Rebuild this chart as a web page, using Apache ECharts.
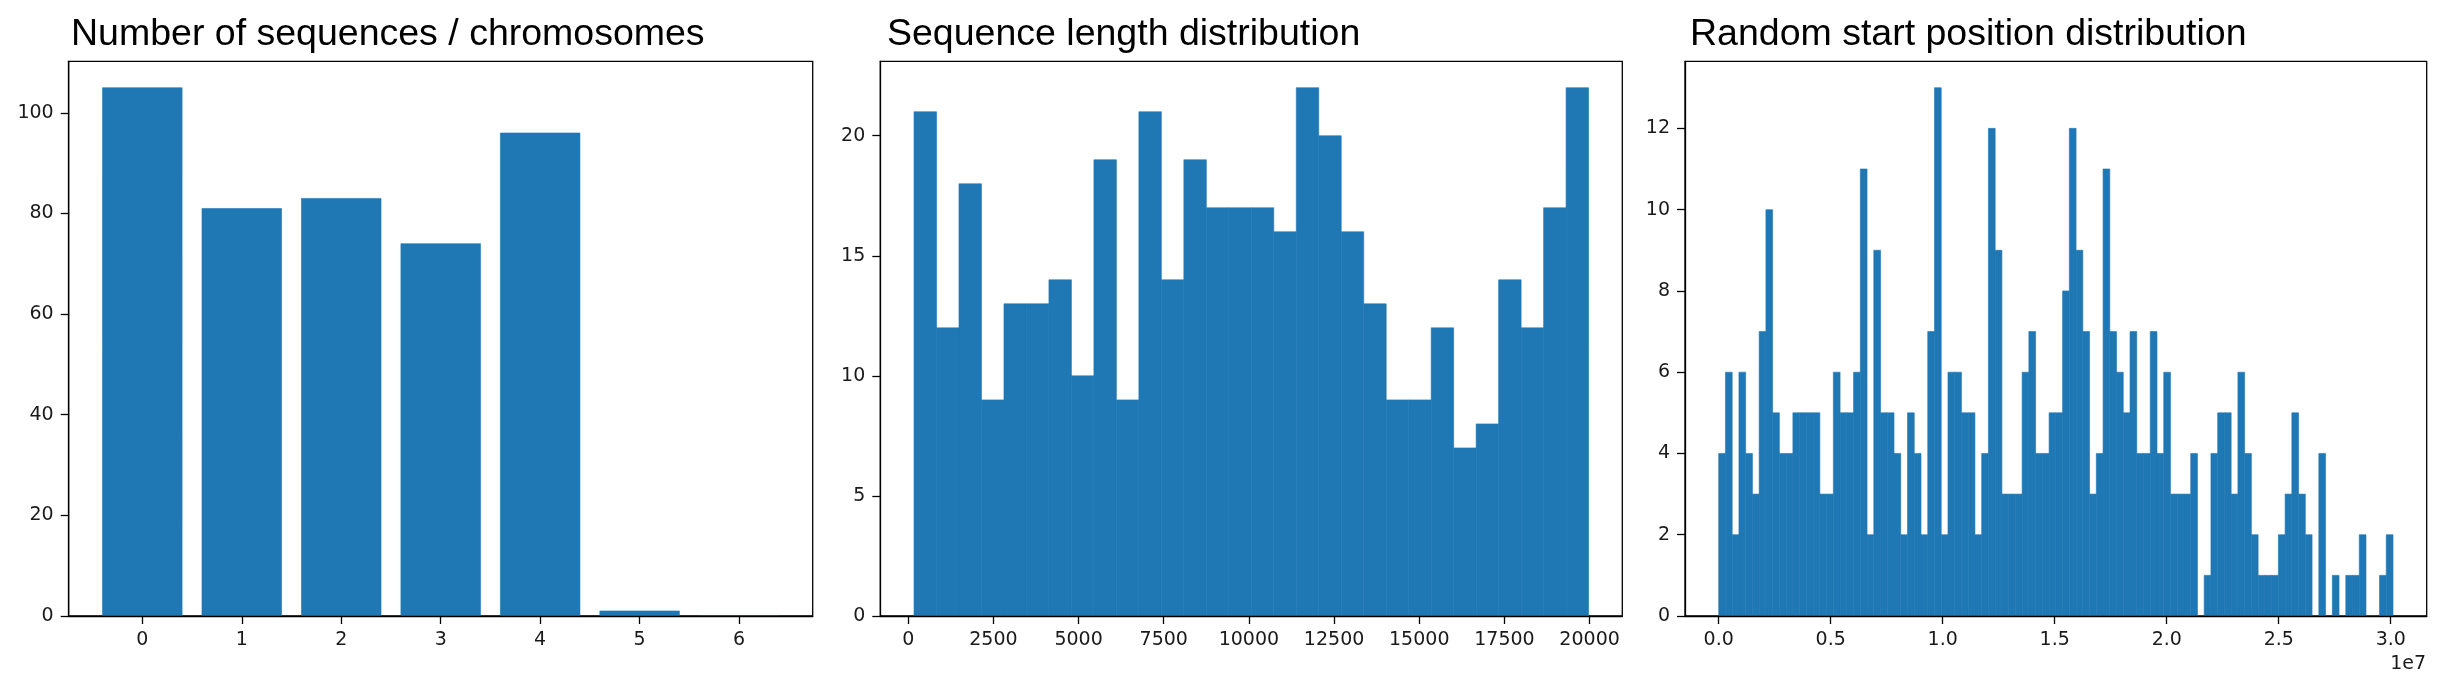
<!DOCTYPE html>
<html>
<head>
<meta charset="utf-8">
<script src="https://cdn.jsdelivr.net/npm/echarts@6/dist/echarts.min.js"></script>
<style>
html,body{margin:0;padding:0;background:#fff;}
#chart{width:2439px;height:693px;}
</style>
</head>
<body>
<div id="chart"></div>
<script>
// ---- Data ----
const titles = ['Number of sequences / chromosomes', 'Sequence length distribution', 'Random start position distribution'];

// Panel 1: sequences per chromosome
const chromosomes = [0, 1, 2, 3, 4, 5, 6];
const chromCounts = [105, 81, 83, 74, 96, 1, 0];
const chromYTicks = [0, 20, 40, 60, 80, 100];

// Panel 2: sequence length histogram (30 bins)
const lenBinStart = 170;
const lenBinWidth = 660;
const lenCounts = [21, 12, 18, 9, 13, 13, 14, 10, 19, 9,
                   21, 14, 19, 17, 17, 17, 16, 22, 20, 16,
                   13, 9, 9, 12, 7, 8, 14, 12, 17, 22];
const lenTicks = [0, 2500, 5000, 7500, 10000, 12500, 15000, 17500, 20000];
const lenYTicks = [0, 5, 10, 15, 20];

// Panel 3: random start position histogram (100 bins)
const posBinStart = 0;
const posBinWidth = 301000;
const posCounts = [4, 6, 2, 6, 4, 3, 7, 10, 5, 4,
                   4, 5, 5, 5, 5, 3, 3, 6, 5, 5,
                   6, 11, 2, 9, 5, 5, 4, 2, 5, 4,
                   2, 7, 13, 2, 6, 6, 5, 5, 2, 4,
                   12, 9, 3, 3, 3, 6, 7, 4, 4, 5,
                   5, 8, 12, 9, 7, 3, 4, 11, 7, 6,
                   5, 7, 4, 4, 7, 4, 6, 3, 3, 3,
                   4, 0, 1, 4, 5, 5, 3, 6, 4, 2,
                   1, 1, 1, 2, 3, 5, 3, 2, 0, 4,
                   0, 1, 0, 1, 1, 2, 0, 0, 1, 2];
const posTicks = [0, 5e6, 10e6, 15e6, 20e6, 25e6, 30e6];
const posTickLabels = ['0.0', '0.5', '1.0', '1.5', '2.0', '2.5', '3.0'];
const posYTicks = [0, 2, 4, 6, 8, 10, 12];

// ---- Build ----
const BLUE = '#1f77b4';
const TICK_FONT = 'DejaVu Sans';
const TITLE_FONT = 'Liberation Sans';

function marginRange(lo, hi) {
  const m = 0.05 * (hi - lo);
  return [lo - m, hi + m];
}

const chromData = chromosomes.map((c, i) => [c - 0.4, c + 0.4, chromCounts[i]]);
const lenData = lenCounts.map((c, i) => [lenBinStart + i * lenBinWidth, lenBinStart + (i + 1) * lenBinWidth, c]);
const posData = posCounts.map((c, i) => [posBinStart + i * posBinWidth, posBinStart + (i + 1) * posBinWidth, c]);

const xr1 = marginRange(-0.4, chromosomes[chromosomes.length - 1] + 0.4);
const xr2 = marginRange(lenBinStart, lenBinStart + lenCounts.length * lenBinWidth);
const xr3 = marginRange(posBinStart, posBinStart + posCounts.length * posBinWidth);
const ymax1 = Math.max(...chromCounts) * 1.05;
const ymax2 = Math.max(...lenCounts) * 1.05;
const ymax3 = Math.max(...posCounts) * 1.05;

const grids = [
  {left: 68.7, top: 61.3, width: 744, height: 554.7},
  {left: 880.3, top: 61.3, width: 742, height: 554.7},
  {left: 1685, top: 61.3, width: 741.7, height: 554.7}
];

function xAxisCfg(gi, range, ticks, fmt) {
  return {
    type: 'value', gridIndex: gi, min: range[0], max: range[1], z: 3,
    splitLine: {show: false},
    axisLine: {show: true, onZero: false, lineStyle: {color: '#000', width: 1.3}},
    axisTick: {show: true, length: 8, lineStyle: {color: '#000', width: 1.3}, customValues: ticks},
    axisLabel: {show: true, margin: 15, color: '#1a1a1a', fontFamily: TICK_FONT, fontSize: 19,
      customValues: ticks, formatter: fmt || (v => String(v))}
  };
}
function yAxisCfg(gi, max, ticks) {
  return {
    type: 'value', gridIndex: gi, min: 0, max: max, z: 3,
    splitLine: {show: false},
    axisLine: {show: true, onZero: false, lineStyle: {color: '#000', width: 1.3}},
    axisTick: {show: true, length: 8, lineStyle: {color: '#000', width: 1.3}, customValues: ticks},
    axisLabel: {show: true, margin: 15, color: '#1a1a1a', fontFamily: TICK_FONT, fontSize: 19,
      customValues: ticks, formatter: v => String(v)}
  };
}

function renderRect(params, api) {
  const p0 = api.coord([api.value(0), api.value(2)]);
  const p1 = api.coord([api.value(1), 0]);
  return {
    type: 'rect',
    shape: {x: p0[0], y: p0[1], width: p1[0] - p0[0], height: p1[1] - p0[1]},
    style: {fill: BLUE, stroke: BLUE, lineWidth: 0.6}
  };
}

function histSeries(idx, data) {
  return {
    type: 'custom', xAxisIndex: idx, yAxisIndex: idx, z: 2,
    renderItem: renderRect, data: data,
    encode: {x: [0, 1], y: 2}, clip: false, silent: true
  };
}

const option = {
  backgroundColor: '#fff',
  animation: false,
  title: [
    {text: titles[0], left: 71, top: 16},
    {text: titles[1], left: 887, top: 16},
    {text: titles[2], left: 1690, top: 16}
  ].map(t => Object.assign(t, {textStyle: {fontFamily: TITLE_FONT, fontSize: 37.5, fontWeight: 'normal', color: '#000'}, padding: 0})),
  grid: grids.map(g => Object.assign({show: true, borderColor: '#000', borderWidth: 1.3, backgroundColor: 'transparent', containLabel: false}, g)),
  xAxis: [
    xAxisCfg(0, xr1, chromosomes),
    xAxisCfg(1, xr2, lenTicks),
    xAxisCfg(2, xr3, posTicks, v => posTickLabels[posTicks.indexOf(v)] ?? '')
  ],
  yAxis: [
    yAxisCfg(0, ymax1, chromYTicks),
    yAxisCfg(1, ymax2, lenYTicks),
    yAxisCfg(2, ymax3, posYTicks)
  ],
  series: [
    histSeries(0, chromData),
    histSeries(1, lenData),
    histSeries(2, posData)
  ],
  graphic: [{
    type: 'text', right: 2439 - 2426, top: 655,
    style: {text: '1e7', fontFamily: TICK_FONT, fontSize: 19, fill: '#1a1a1a'}
  }]
};

const chart = echarts.init(document.getElementById('chart'), null, {renderer: 'canvas'});
chart.setOption(option);
</script>
</body>
</html>
